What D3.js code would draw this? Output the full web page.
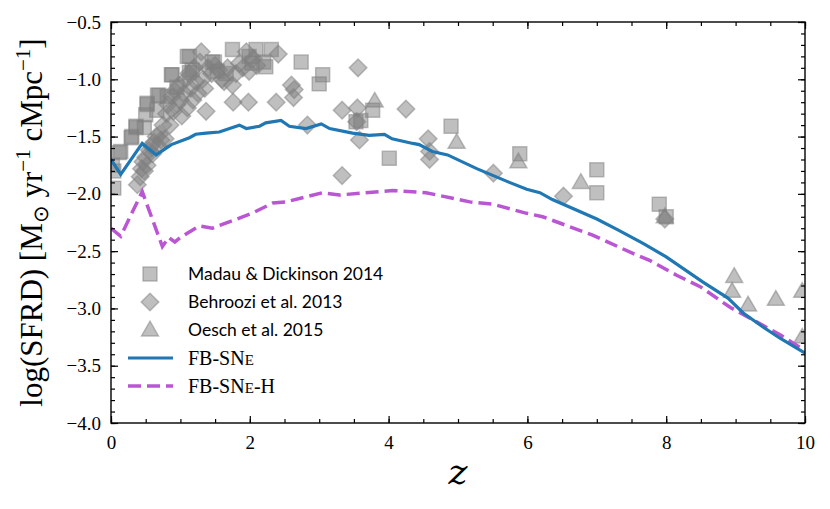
<!DOCTYPE html>
<html>
<head>
<meta charset="utf-8">
<script src="https://cdn.jsdelivr.net/npm/d3@7"></script>
<style>
  body { margin: 0; background: #fff; }
  text { font-family: "Liberation Serif", serif; }
</style>
</head>
<body>
<div id="chart-area"></div>
<script>
// SVG Size
var width = 830,
    height = 509;

var margin = {left: 111, right: 25, top: 22, bottom: 86};

// FB-SNe model (z, log SFRD)
var snZ = [0.0, 0.14, 0.45, 0.65, 0.87, 1.13, 1.22, 1.37, 1.56, 1.85, 1.95, 2.14, 2.23, 2.45, 2.57, 2.81, 3.03, 3.15, 3.48, 3.72, 3.94, 4.05, 4.35, 4.44, 4.63, 4.85, 5.27, 5.74, 5.99, 6.18, 6.36, 7.0, 7.29, 7.66, 8.0, 8.53, 8.89, 9.11, 9.39, 9.64, 10.0];
var snV = [-1.70, -1.83, -1.56, -1.66, -1.57, -1.51, -1.48, -1.47, -1.46, -1.40, -1.43, -1.41, -1.38, -1.36, -1.41, -1.43, -1.39, -1.43, -1.47, -1.49, -1.48, -1.52, -1.56, -1.57, -1.63, -1.66, -1.78, -1.90, -1.96, -1.99, -2.05, -2.22, -2.31, -2.43, -2.55, -2.77, -2.91, -3.04, -3.16, -3.26, -3.39];

// FB-SNe-H model
var snhZ = [0.0, 0.14, 0.45, 0.74, 0.83, 0.92, 1.0, 1.27, 1.46, 2.03, 2.33, 2.52, 3.05, 3.29, 3.87, 4.06, 4.54, 5.17, 5.5, 5.99, 6.22, 6.94, 7.52, 7.76, 8.15, 8.49, 8.92, 9.25, 9.64, 10.0];
var snhV = [-2.30, -2.37, -1.98, -2.46, -2.38, -2.42, -2.38, -2.28, -2.30, -2.17, -2.08, -2.07, -1.99, -2.01, -1.98, -1.97, -1.99, -2.07, -2.09, -2.17, -2.20, -2.36, -2.52, -2.58, -2.71, -2.81, -2.99, -3.10, -3.23, -3.37];

// Madau & Dickinson 2014 (squares)
var mdZ = [0.02, 0.04, 0.04, 0.12, 0.14, 0.29, 0.30, 0.36, 0.36, 0.48, 0.50, 0.52, 0.52, 0.66, 0.67, 0.69, 0.81, 0.87, 0.88, 0.95, 1.10, 1.13, 1.13, 1.17, 1.46, 1.49, 1.53, 1.66, 1.75, 1.99, 2.03, 2.09, 2.20, 2.23, 2.31, 2.74, 3.0, 3.05, 3.53, 3.6, 3.77, 4.01, 4.9, 5.89, 7.0, 7.0, 7.9, 8.0];
var mdV = [-1.75, -1.95, -1.80, -1.64, -1.63, -1.51, -1.50, -1.42, -1.41, -1.42, -1.31, -1.22, -1.21, -1.27, -1.14, -1.14, -1.15, -0.96, -0.96, -1.07, -0.80, -0.94, -0.80, -0.92, -0.85, -0.85, -0.93, -0.95, -0.74, -0.80, -0.86, -0.74, -0.85, -0.89, -0.74, -0.85, -1.04, -0.96, -1.37, -1.36, -1.27, -1.69, -1.41, -1.65, -1.79, -1.99, -2.09, -2.20];

// Behroozi et al. 2013 (diamonds)
var beZ = [0.38, 0.42, 0.44, 0.46, 0.48, 0.50, 0.52, 0.55, 0.58, 0.60, 0.62, 0.65, 0.68, 0.70, 0.72, 0.75, 0.78, 0.80, 0.82, 0.85, 0.88, 0.90, 0.92, 0.95, 0.98, 1.0, 1.02, 1.05, 1.08, 1.10, 1.12, 1.15, 1.18, 1.20, 1.22, 1.25, 1.28, 1.30, 1.32, 1.35, 1.37, 1.40, 1.45, 1.50, 1.55, 1.60, 1.63, 1.68, 1.75, 1.76, 1.80, 1.85, 1.90, 1.95, 1.98, 1.99, 2.05, 2.10, 2.38, 2.41, 2.60, 2.63, 2.64, 2.83, 3.33, 3.33, 3.54, 3.55, 3.56, 3.58, 4.25, 4.57, 4.59, 4.59, 5.51, 6.52, 7.98];
var beV = [-1.92, -1.85, -1.78, -1.72, -1.80, -1.68, -1.75, -1.62, -1.58, -1.65, -1.55, -1.50, -1.58, -1.48, -1.53, -1.40, -1.52, -1.30, -1.22, -1.40, -1.15, -1.28, -1.10, -1.22, -1.05, -1.18, -1.32, -1.12, -1.00, -1.25, -0.95, -1.08, -1.18, -0.90, -1.02, -1.12, -0.85, -0.76, -1.00, -1.08, -1.28, -0.90, -0.95, -0.88, -0.92, -1.00, -1.02, -0.90, -1.05, -1.20, -0.95, -0.86, -0.90, -0.76, -1.20, -0.93, -0.82, -0.88, -1.20, -0.78, -1.05, -1.16, -1.09, -1.40, -1.27, -1.84, -1.37, -1.25, -0.90, -1.53, -1.26, -1.52, -1.63, -1.70, -1.82, -2.02, -2.22];

// Oesch et al. 2015 (triangles)
var oeZ = [3.8, 4.98, 5.87, 6.77, 7.98, 8.95, 8.98, 9.18, 9.58, 9.96, 9.96];
var oeV = [-1.20, -1.56, -1.73, -1.91, -2.21, -2.86, -2.73, -2.98, -2.93, -2.86, -3.26];

var xTicks = [0, 2, 4, 6, 8, 10];
var yTicks = [-4.0, -3.5, -3.0, -2.5, -2.0, -1.5, -1.0, -0.5];

var legendLabels = ["Madau & Dickinson 2014", "Behroozi et al. 2013", "Oesch et al. 2015"];

var svg = d3.select("#chart-area").append("svg")
    .attr("width", width)
    .attr("height", height);

var x = d3.scaleLinear()
    .domain([0, 10])
    .range([margin.left, width - margin.right]);

var y = d3.scaleLinear()
    .domain([-4.0, -0.5])
    .range([height - margin.bottom, margin.top]);

var plotW = width - margin.left - margin.right,
    plotH = height - margin.top - margin.bottom;

var minorX = d3.range(0, 10.01, 0.5),
    minorY = d3.range(-4.0, -0.49, 0.1);

// clip for data
svg.append("clipPath").attr("id", "clip")
  .append("rect")
    .attr("x", margin.left).attr("y", margin.top)
    .attr("width", plotW).attr("height", plotH);

var plot = svg.append("g").attr("clip-path", "url(#clip)");

var grey = "#808080";

function zip(a, b) {
  return a.map(function(d, i) { return [d, b[i]]; });
}

var symSquare = d3.symbol().type(d3.symbolSquare).size(195);
var symDiamond = d3.symbol().type(d3.symbolSquare).size(155);
var symTri = d3.symbol().type(d3.symbolTriangle).size(125);

function drawPoints(data, sym, rot) {
  plot.append("g").selectAll("path")
    .data(data)
    .enter()
    .append("path")
      .attr("d", sym)
      .attr("transform", function(d) {
        return "translate(" + x(d[0]) + "," + y(d[1]) + ")" + (rot ? " rotate(45)" : "");
      })
      .attr("fill", grey)
      .attr("fill-opacity", 0.5)
      .attr("stroke", grey)
      .attr("stroke-opacity", 0.5)
      .attr("stroke-width", 1.5);
}

drawPoints(zip(mdZ, mdV), symSquare, false);
drawPoints(zip(beZ, beV), symDiamond, true);
drawPoints(zip(oeZ, oeV), symTri, false);

var line = d3.line()
    .x(function(d) { return x(d[0]); })
    .y(function(d) { return y(d[1]); });

plot.append("path")
    .datum(zip(snhZ, snhV))
    .attr("d", line)
    .attr("fill", "none")
    .attr("stroke", "#ba55d3")
    .attr("stroke-width", 3.5)
    .attr("stroke-dasharray", "13,6");

plot.append("path")
    .datum(zip(snZ, snV))
    .attr("d", line)
    .attr("fill", "none")
    .attr("stroke", "#1f77b4")
    .attr("stroke-width", 3.2);

// axes, ticks inward on all sides
var yBot = height - margin.bottom, yTop = margin.top;
var xLeft = margin.left, xRight = width - margin.right;

function noDomain(g) { g.select(".domain").remove(); }

svg.append("g").attr("transform", "translate(0," + yBot + ")")
    .call(d3.axisBottom(x).tickValues(minorX).tickSize(-4).tickFormat(""))
    .call(noDomain);
svg.append("g").attr("transform", "translate(0," + yBot + ")")
    .call(d3.axisBottom(x).tickValues(xTicks).tickSize(-7).tickPadding(13)
      .tickFormat(d3.format("d")))
    .call(function(g) {
      noDomain(g);
      g.selectAll("text").attr("font-size", 19).attr("fill", "#000")
        .style("font-family", "'Liberation Serif', serif");
    });
svg.append("g").attr("transform", "translate(0," + yTop + ")")
    .call(d3.axisTop(x).tickValues(minorX).tickSize(-4).tickFormat(""))
    .call(noDomain);
svg.append("g").attr("transform", "translate(0," + yTop + ")")
    .call(d3.axisTop(x).tickValues(xTicks).tickSize(-7).tickFormat(""))
    .call(noDomain);

svg.append("g").attr("transform", "translate(" + xLeft + ",0)")
    .call(d3.axisLeft(y).tickValues(minorY).tickSize(-4).tickFormat(""))
    .call(noDomain);
svg.append("g").attr("transform", "translate(" + xLeft + ",0)")
    .call(d3.axisLeft(y).tickValues(yTicks).tickSize(-7).tickPadding(10)
      .tickFormat(function(d) { return d3.format(".1f")(d).replace("-", "\u2212"); }))
    .call(function(g) {
      noDomain(g);
      g.selectAll("text").attr("font-size", 19).attr("fill", "#000")
        .style("font-family", "'Liberation Serif', serif");
    });
svg.append("g").attr("transform", "translate(" + xRight + ",0)")
    .call(d3.axisRight(y).tickValues(minorY).tickSize(-4).tickFormat(""))
    .call(noDomain);
svg.append("g").attr("transform", "translate(" + xRight + ",0)")
    .call(d3.axisRight(y).tickValues(yTicks).tickSize(-7).tickFormat(""))
    .call(noDomain);

svg.selectAll(".tick line").attr("stroke", "#000").attr("stroke-width", 1.2);

svg.append("rect")
    .attr("x", xLeft).attr("y", yTop)
    .attr("width", plotW).attr("height", plotH)
    .attr("fill", "none")
    .attr("stroke", "#000")
    .attr("stroke-width", 1.4);

// axis labels
svg.append("text")
    .attr("x", (xLeft + xRight) / 2)
    .attr("y", 484)
    .attr("text-anchor", "middle")
    .attr("font-size", 36)
    .attr("font-style", "italic")
    .style("font-family", "'DejaVu Serif', serif")
    .text("z");

var ylab = svg.append("text")
    .attr("transform", "translate(42," + ((yTop + yBot) / 2) + ") rotate(-90)")
    .attr("text-anchor", "middle")
    .attr("font-size", 31)
    .style("font-family", "'Liberation Serif', serif");
ylab.append("tspan").text("log(SFRD) [M");
ylab.append("tspan").attr("font-size", 21).attr("dy", 6).text("\u2299");
ylab.append("tspan").attr("dy", -6).text(" yr");
ylab.append("tspan").attr("font-size", 21).attr("dy", -12).text("\u22121");
ylab.append("tspan").attr("dy", 12).text(" cMpc");
ylab.append("tspan").attr("font-size", 21).attr("dy", -12).text("\u22121");
ylab.append("tspan").attr("dy", 12).text("]");

// legend
var legY = [274, 302, 330, 358, 386];
var legMarkX = 150, legTextX = 188;
var leg = svg.append("g");

leg.append("path").attr("d", symSquare)
    .attr("transform", "translate(" + legMarkX + "," + legY[0] + ")");
leg.append("path").attr("d", symDiamond)
    .attr("transform", "translate(" + legMarkX + "," + legY[1] + ") rotate(45)");
leg.append("path").attr("d", symTri)
    .attr("transform", "translate(" + legMarkX + "," + (legY[2] + 1) + ")");
leg.selectAll("path")
    .attr("fill", grey).attr("fill-opacity", 0.5)
    .attr("stroke", grey).attr("stroke-opacity", 0.5).attr("stroke-width", 1.5);

leg.append("line")
    .attr("x1", 128).attr("x2", 173).attr("y1", legY[3]).attr("y2", legY[3])
    .attr("stroke", "#1f77b4").attr("stroke-width", 3.2);
leg.append("line")
    .attr("x1", 128).attr("x2", 173).attr("y1", legY[4]).attr("y2", legY[4])
    .attr("stroke", "#ba55d3").attr("stroke-width", 3.5)
    .attr("stroke-dasharray", "13,6");

legendLabels.forEach(function(t, i) {
  leg.append("text")
      .attr("x", legTextX).attr("y", legY[i] + 6)
      .attr("font-size", 17.5)
      .style("font-family", "Lato, sans-serif")
      .text(t);
});

var t1 = leg.append("text")
    .attr("x", legTextX).attr("y", legY[3] + 7)
    .attr("font-size", 20)
    .style("font-family", "'Liberation Serif', serif");
t1.append("tspan").text("FB-SN");
t1.append("tspan").attr("font-size", 15).text("E");

var t2 = leg.append("text")
    .attr("x", legTextX).attr("y", legY[4] + 7)
    .attr("font-size", 20)
    .style("font-family", "'Liberation Serif', serif");
t2.append("tspan").text("FB-SN");
t2.append("tspan").attr("font-size", 15).text("E");
t2.append("tspan").text("-H");
</script>
</body>
</html>
